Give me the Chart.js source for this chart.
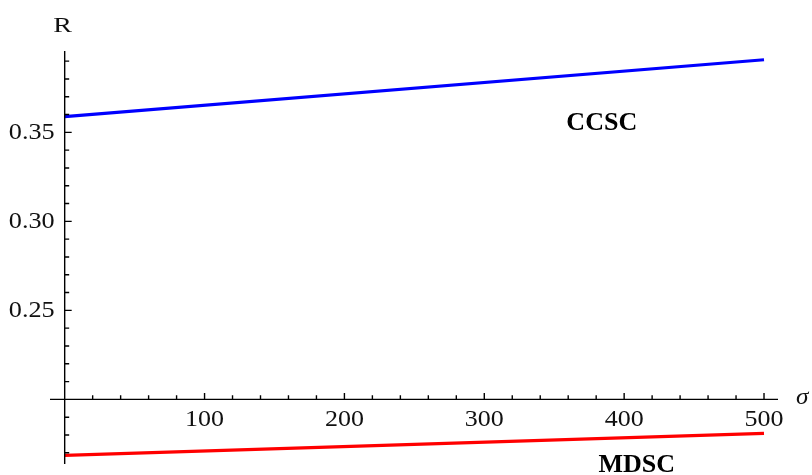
<!DOCTYPE html>
<html>
<head>
<meta charset="utf-8">
<script src="https://cdn.jsdelivr.net/npm/chart.js@4"></script>
<style>
  html, body { margin: 0; padding: 0; background: #fff; }
  #wrap { width: 812px; height: 475px; position: relative; }
</style>
</head>
<body>
<div id="wrap"><canvas id="c"></canvas></div>
<script>
// R versus sigma for the two schemes
const sigma = [0, 500];
const ccsc = [0.3588, 0.3908];
const mdsc = [0.1685, 0.1809];

// axis ticks
const xMajor = [100, 200, 300, 400, 500];
const xMinor = [20, 40, 60, 80, 120, 140, 160, 180, 220, 240, 260, 280, 320, 340, 360, 380, 420, 440, 460, 480];
const yMajor = [0.25, 0.30, 0.35];
const yMinor = [0.17, 0.18, 0.19, 0.21, 0.22, 0.23, 0.24, 0.26, 0.27, 0.28, 0.29, 0.31, 0.32, 0.33, 0.34, 0.36, 0.37, 0.38, 0.39];
const xLabels = ['100', '200', '300', '400', '500'];
const yLabels = ['0.25', '0.30', '0.35'];

// where the axes cross
const X0 = 0, Y0 = 0.20;

const SERIF = '"Liberation Serif", "DejaVu Serif", serif';

// text a little wider than the font draws it
function wideText(ctx, txt, x, y, align, sx) {
  ctx.save();
  ctx.translate(x, y);
  ctx.scale(sx, 1);
  ctx.textAlign = align;
  ctx.fillText(txt, 0, 0);
  ctx.restore();
}

const axesPlugin = {
  id: 'mmaAxes',
  afterDatasetsDraw(chart) {
    const { ctx, chartArea: a } = chart;
    const xs = chart.scales.x, ys = chart.scales.y;
    const ox = xs.getPixelForValue(X0), oy = ys.getPixelForValue(Y0);
    ctx.save();
    ctx.strokeStyle = '#000';
    ctx.lineWidth = 1.4;
    ctx.beginPath();
    ctx.moveTo(a.left, oy); ctx.lineTo(a.right, oy);
    ctx.moveTo(ox, a.top); ctx.lineTo(ox, a.bottom);
    // ticks point into the plot
    xMajor.forEach(v => { const p = xs.getPixelForValue(v); ctx.moveTo(p, oy); ctx.lineTo(p, oy - 6.5) });
    xMinor.forEach(v => { const p = xs.getPixelForValue(v); ctx.moveTo(p, oy); ctx.lineTo(p, oy - 4.2) });
    yMajor.forEach(v => { const p = ys.getPixelForValue(v); ctx.moveTo(ox, p); ctx.lineTo(ox + 7, p) });
    yMinor.forEach(v => { const p = ys.getPixelForValue(v); ctx.moveTo(ox, p); ctx.lineTo(ox + 4.5, p) });
    ctx.stroke();

    ctx.fillStyle = '#111';
    ctx.font = '23px ' + SERIF;
    ctx.textBaseline = 'middle';
    xMajor.forEach((v, i) => wideText(ctx, xLabels[i], xs.getPixelForValue(v), oy + 21, 'center', 1.13));
    yMajor.forEach((v, i) => wideText(ctx, yLabels[i], ox - 10, ys.getPixelForValue(v) + 1, 'right', 1.14));

    // axis names
    ctx.font = '20px ' + SERIF;
    wideText(ctx, 'R', ox - 2, a.top - 24, 'center', 1.4);
    ctx.font = 'italic 24px ' + SERIF;
    wideText(ctx, 'σ', a.right + 18, oy - 2, 'left', 1.05);

    // curve names
    ctx.font = 'bold 26px ' + SERIF;
    ctx.textAlign = 'center';
    ctx.textBaseline = 'alphabetic';
    ctx.fillStyle = '#000';
    ctx.fillText('CCSC', xs.getPixelForValue(384), ys.getPixelForValue(0.3513));
    ctx.fillText('MDSC', xs.getPixelForValue(409), ys.getPixelForValue(0.1592));
    ctx.restore();
  }
};

new Chart(document.getElementById('c'), {
  type: 'line',
  data: {
    datasets: [
      { label: 'CCSC', data: sigma.map((s, i) => ({ x: s, y: ccsc[i] })), borderColor: '#0000ff', borderWidth: 3.2, pointRadius: 0, fill: false, tension: 0 },
      { label: 'MDSC', data: sigma.map((s, i) => ({ x: s, y: mdsc[i] })), borderColor: '#ff0000', borderWidth: 3.2, pointRadius: 0, fill: false, tension: 0 }
    ]
  },
  options: {
    responsive: true, maintainAspectRatio: false, animation: false,
    layout: { padding: { left: 50, right: 34, top: 51, bottom: 11 } },
    plugins: { legend: { display: false }, tooltip: { enabled: false } },
    scales: {
      x: { type: 'linear', min: -10.5, max: 510, display: false },
      y: { type: 'linear', min: 0.1637, max: 0.3957, display: false }
    }
  },
  plugins: [axesPlugin]
});
</script>
</body>
</html>
